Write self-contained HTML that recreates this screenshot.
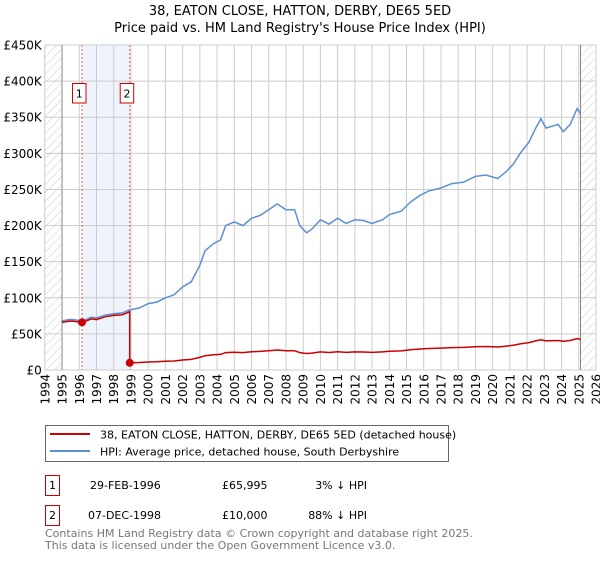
<!DOCTYPE html>
<html><head><meta charset="utf-8"><style>
body{margin:0;background:#fff;font-family:"DejaVu Sans","Liberation Sans",sans-serif;}
svg text{font-family:"DejaVu Sans","Liberation Sans",sans-serif;}
</style></head><body>
<svg id="chart" width="600" height="560" xmlns="http://www.w3.org/2000/svg">
<defs><pattern id="hatch" width="6" height="6" patternUnits="userSpaceOnUse" patternTransform="rotate(45)"><line x1="0" y1="0" x2="0" y2="6" stroke="#ccc" stroke-width="1"/></pattern></defs>
<text x="300" y="15" text-anchor="middle" font-size="13">38, EATON CLOSE, HATTON, DERBY, DE65 5ED</text>
<text x="300" y="32" text-anchor="middle" font-size="13">Price paid vs. HM Land Registry's House Price Index (HPI)</text>
<g id="plot"></g>
<g>
<rect x="45.5" y="425.5" width="403" height="36" fill="#fff" stroke="#666"/>
<line x1="50" y1="434" x2="90" y2="434" stroke="#cc0000" stroke-width="2"/>
<text x="100" y="438.5" font-size="11">38, EATON CLOSE, HATTON, DERBY, DE65 5ED (detached house)</text>
<line x1="50" y1="451" x2="90" y2="451" stroke="#5b8fd4" stroke-width="2"/>
<text x="100" y="455.5" font-size="11">HPI: Average price, detached house, South Derbyshire</text>
</g>
<g font-size="11">
<rect x="45.5" y="475.5" width="14" height="20" fill="#fff" stroke="#cc0000"/><text x="52.5" y="489" text-anchor="middle">1</text>
<text x="90" y="489">29-FEB-1996</text><text x="222" y="489">£65,995</text><text x="367" y="489" text-anchor="end">3% ↓ HPI</text>
<rect x="45.5" y="505.5" width="14" height="20" fill="#fff" stroke="#cc0000"/><text x="52.5" y="519" text-anchor="middle">2</text>
<text x="88" y="519">07-DEC-1998</text><text x="222" y="519">£10,000</text><text x="367" y="519" text-anchor="end">88% ↓ HPI</text>
</g>
<text x="45" y="537" font-size="11" fill="#777">Contains HM Land Registry data © Crown copyright and database right 2025.</text>
<text x="45" y="549" font-size="11" fill="#777">This data is licensed under the Open Government Licence v3.0.</text>
</svg>
<script>
const hpiYears=[1995.0,1995.5,1996.2,1996.7,1997.0,1997.5,1998.0,1998.5,1998.9,1999.5,2000,2000.5,2001,2001.5,2002,2002.5,2003.0,2003.3,2003.8,2004.2,2004.5,2005,2005.5,2006,2006.5,2007,2007.5,2008,2008.5,2008.8,2009.2,2009.5,2010,2010.5,2011,2011.5,2012,2012.5,2013,2013.6,2014,2014.7,2015.2,2015.8,2016.3,2017,2017.6,2018.3,2019,2019.6,2020.3,2020.8,2021.2,2021.6,2022.1,2022.5,2022.8,2023.1,2023.8,2024.1,2024.5,2024.9,2025.1];
const hpiValues=[68000,70000,68000,73000,72000,76000,78000,79000,83000,86000,92000,94000,100000,104000,115000,122000,145000,165000,175000,180000,200000,205000,200000,210000,214000,222000,230000,222000,222000,200000,190000,195000,208000,202000,210000,203000,208000,207000,203000,208000,215000,220000,232000,242000,248000,252000,258000,260000,268000,270000,265000,275000,285000,300000,315000,335000,348000,335000,340000,330000,340000,362000,355000];
const saleYears=[1996.16,1998.93];
const salePrices=[65995,10000];
const yTicks=[0,50000,100000,150000,200000,250000,300000,350000,400000,450000];
const yTickLabels=["£0","£50K","£100K","£150K","£200K","£250K","£300K","£350K","£400K","£450K"];
const xTicks=[1994,1995,1996,1997,1998,1999,2000,2001,2002,2003,2004,2005,2006,2007,2008,2009,2010,2011,2012,2013,2014,2015,2016,2017,2018,2019,2020,2021,2022,2023,2024,2025,2026];
const X0=44.8,X1=596,Y0=370,Y1=45;
const xs=y=>X0+(y-1994)/32*(X1-X0);
const ys=v=>Y0-v/450000*(Y0-Y1);
const g=document.getElementById('plot');const NS='http://www.w3.org/2000/svg';
function mk(t,a){const e=document.createElementNS(NS,t);for(const k in a)e.setAttribute(k,a[k]);g.appendChild(e);return e;}
function hpiAt(y){for(let i=0;i<hpiYears.length-1;i++){if(y<=hpiYears[i+1]){const t=(y-hpiYears[i])/(hpiYears[i+1]-hpiYears[i]);return hpiValues[i]+t*(hpiValues[i+1]-hpiValues[i]);}}return hpiValues[hpiValues.length-1];}
let e;
e=mk('rect',{x:X0,y:Y1,width:X1-X0,height:Y0-Y1,fill:'#fff'});


e=mk('rect',{x:xs(saleYears[0]),y:Y1,width:xs(saleYears[1])-xs(saleYears[0]),height:Y0-Y1,fill:'#eef3fc'});


e=mk('rect',{x:X0,y:Y1,width:xs(1995)-X0,height:Y0-Y1,fill:'url(#hatch)'});


e=mk('rect',{x:xs(2025.1),y:Y1,width:X1-xs(2025.1),height:Y0-Y1,fill:'url(#hatch)'});


xTicks.forEach((t,i)=>{
 e=mk('line',{x1:xs(t),x2:xs(t),y1:Y1,y2:Y0,stroke:'#ccc'});
 
 
 const tx=xs(t)+4.5,ty=Y0+4;
 e=mk('text',{x:tx,y:ty,'text-anchor':'end','font-size':'12',transform:'rotate(-90 '+tx+' '+ty+')'});e.textContent=t;
 
 
});
yTicks.forEach((t,i)=>{
 e=mk('line',{x1:X0,x2:X1,y1:ys(t),y2:ys(t),stroke:'#ccc'});
 
 
 e=mk('text',{x:X0-3,y:ys(t)+4.5,'text-anchor':'end','font-size':'12'});e.textContent=yTickLabels[i];
 
 
});
e=mk('line',{x1:xs(1995),x2:xs(1995),y1:Y1,y2:Y0,stroke:'#888'});


e=mk('line',{x1:xs(2025.1),x2:xs(2025.1),y1:Y1,y2:Y0,stroke:'#888'});


saleYears.forEach((s,i)=>{
 e=mk('line',{x1:xs(s),x2:xs(s),y1:Y1,y2:Y0,stroke:'#e06060','stroke-dasharray':'2,2'});
 
 
 e=mk('rect',{x:xs(s)-9.5,y:83.5,width:13.5,height:19.5,fill:'#fff',stroke:'#cc0000'});
 
 
 e=mk('text',{x:xs(s)-2.7,y:97.5,'text-anchor':'middle','font-size':'11'});e.textContent=String(i+1);
 
 
});
let hp=hpiYears.map((y,i)=>(i?'L':'M')+xs(y).toFixed(1)+','+ys(hpiValues[i]).toFixed(1)).join('');
e=mk('path',{d:hp,fill:'none',stroke:'#5b8fd4','stroke-width':'1.5'});


const pts=[];
const r0=salePrices[0]/hpiAt(saleYears[0]);
const r1=salePrices[1]/hpiAt(saleYears[1]);
hpiYears.forEach((y,i)=>{ if(y<saleYears[1]) pts.push([y,hpiValues[i]*r0]); });
pts.push([saleYears[1],hpiAt(saleYears[1])*r0]);
pts.push([saleYears[1],salePrices[1]]);
hpiYears.forEach((y,i)=>{ if(y>saleYears[1]) pts.push([y,hpiValues[i]*r1]); });
let rp=pts.map((p,i)=>(i?'L':'M')+xs(p[0]).toFixed(1)+','+ys(p[1]).toFixed(1)).join('');
e=mk('path',{d:rp,fill:'none',stroke:'#cc0000','stroke-width':'1.5'});


saleYears.forEach((s,i)=>{
 e=mk('circle',{cx:xs(s),cy:ys(salePrices[i]),r:4,fill:'#cc0000'});
 
 
});
</script>
</body></html>
